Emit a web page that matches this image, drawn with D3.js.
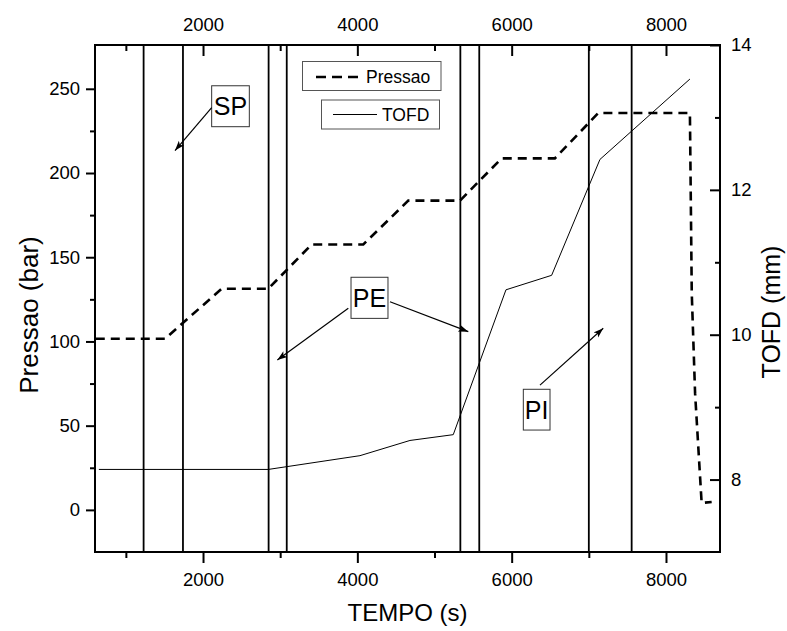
<!DOCTYPE html>
<html>
<head>
<meta charset="utf-8">
<script src="https://cdn.jsdelivr.net/npm/d3@7"></script>
<style>
  html, body { margin: 0; padding: 0; background: #fff; }
  svg { display: block; font-family: "Liberation Sans", Arial, sans-serif; }
</style>
</head>
<body>
<svg id="chart" width="787" height="631"></svg>
<script>
// ---- data ----
const timeTicks = [2000, 4000, 6000, 8000];
const timeMinorTicks = [1000, 3000, 5000, 7000];
const pressaoTicks = [0, 50, 100, 150, 200, 250];
const pressaoMinorTicks = [25, 75, 125, 175, 225];
const tofdTicks = [8, 10, 12, 14];
const tofdMinorTicks = [9, 11, 13];

const pressaoTime = [610, 1507, 2242, 2846, 3408, 4077, 4660, 5330, 5870, 6560, 7122, 8310, 8334, 8377, 8462, 8592];
const pressaoBar  = [101.6, 101.6, 131.3, 131.3, 157.6, 157.6, 183.6, 183.6, 208.7, 208.7, 235.6, 235.6, 128.6, 69.3, 4.1, 4.7];

const tofdTime = [650, 2846, 4034, 4682, 5243, 5926, 6518, 7144, 8310];
const tofdMm   = [8.14, 8.14, 8.33, 8.54, 8.62, 10.62, 10.82, 12.42, 13.53];

const eventTimes = [1230, 1740, 2850, 3085, 5335, 5580, 7000, 7555];

// annotations: label, box (time range, pressure range), arrows from -> to (time, pressure)
const annLabels = ["SP", "PE", "PI"];
const annBoxTime = [[2112, 2600], [3918, 4397], [6151, 6497]];
const annBoxBar  = [[251.8, 227.5], [138.1, 113.7], [71.6, 47.4]];
const annArrows  = [
  [[2112, 238.8, 1637, 213.3]],
  [[3883, 119.7, 2963, 89.0], [4423, 123.6, 5438, 105.8]],
  [[6367, 74.1, 7187, 107.8]]
];

const legendLabels = ["Pressao", "TOFD"];

// ---- layout ----
const L = 95, R = 720, T = 45, B = 552;
const svg = d3.select("#chart");

const x = d3.scaleLinear().domain([600, 8700]).range([L, R]);
const yL = d3.scaleLinear().domain([-25, 276]).range([B, T]);
const yR = d3.scaleLinear().domain([7, 14]).range([B, T]);

const tickFont = "18.5px";

function styleAxis(g) {
  g.select(".domain").remove();
  g.selectAll("line").attr("stroke", "#000").attr("stroke-width", 2);
  g.selectAll("text").attr("font-size", tickFont).attr("fill", "#000")
    .attr("font-family", "'Liberation Sans', Arial, sans-serif");
}

// bottom axis
svg.append("g").attr("transform", `translate(0,${B})`)
  .call(d3.axisBottom(x).tickValues(timeTicks).tickSizeInner(11).tickSizeOuter(0).tickPadding(10).tickFormat(d3.format("d")))
  .call(styleAxis);
svg.append("g").attr("transform", `translate(0,${B})`)
  .call(d3.axisBottom(x).tickValues(timeMinorTicks).tickSizeInner(6).tickSizeOuter(0).tickFormat(""))
  .call(styleAxis);
// top axis
svg.append("g").attr("transform", `translate(0,${T})`)
  .call(d3.axisTop(x).tickValues(timeTicks).tickSizeInner(-11).tickSizeOuter(0).tickPadding(14).tickFormat(d3.format("d")))
  .call(styleAxis);
svg.append("g").attr("transform", `translate(0,${T})`)
  .call(d3.axisTop(x).tickValues(timeMinorTicks).tickSizeInner(-6).tickSizeOuter(0).tickFormat(""))
  .call(styleAxis);
// left axis
svg.append("g").attr("transform", `translate(${L},0)`)
  .call(d3.axisLeft(yL).tickValues(pressaoTicks).tickSizeInner(9).tickSizeOuter(0).tickPadding(6).tickFormat(d3.format("d")))
  .call(styleAxis);
svg.append("g").attr("transform", `translate(${L},0)`)
  .call(d3.axisLeft(yL).tickValues(pressaoMinorTicks).tickSizeInner(5).tickSizeOuter(0).tickFormat(""))
  .call(styleAxis);
// right axis
svg.append("g").attr("transform", `translate(${R},0)`)
  .call(d3.axisRight(yR).tickValues(tofdTicks).tickSizeInner(-10).tickSizeOuter(0).tickPadding(11).tickFormat(d3.format("d")))
  .call(styleAxis);
svg.append("g").attr("transform", `translate(${R},0)`)
  .call(d3.axisRight(yR).tickValues(tofdMinorTicks).tickSizeInner(-5).tickSizeOuter(0).tickFormat(""))
  .call(styleAxis);

// event vertical lines
svg.append("g").selectAll("line").data(eventTimes).join("line")
  .attr("x1", d => x(d)).attr("x2", d => x(d))
  .attr("y1", T).attr("y2", B)
  .attr("stroke", "#000").attr("stroke-width", 1.8);

// TOFD line
const tofdData = tofdTime.map((t, i) => [t, tofdMm[i]]);
svg.append("path").datum(tofdData)
  .attr("fill", "none").attr("stroke", "#000").attr("stroke-width", 1)
  .attr("d", d3.line().x(d => x(d[0])).y(d => yR(d[1])));

// Pressao line
const presData = pressaoTime.map((t, i) => [t, pressaoBar[i]]);
svg.append("path").datum(presData)
  .attr("fill", "none").attr("stroke", "#000").attr("stroke-width", 2.6)
  .attr("stroke-dasharray", "9,6")
  .attr("d", d3.line().x(d => x(d[0])).y(d => yL(d[1])));

// frame
svg.append("rect").attr("x", L).attr("y", T).attr("width", R - L).attr("height", B - T)
  .attr("fill", "none").attr("stroke", "#000").attr("stroke-width", 2);

// arrow marker
svg.append("defs").append("marker")
  .attr("id", "ah").attr("viewBox", "0 0 10 10").attr("refX", 10).attr("refY", 5)
  .attr("markerWidth", 10).attr("markerHeight", 10).attr("markerUnits", "userSpaceOnUse")
  .attr("orient", "auto")
  .append("path").attr("d", "M0,1.5 L10,5 L0,8.5 L2.5,5 Z").attr("fill", "#000");

// annotations
annLabels.forEach((lab, i) => {
  const g = svg.append("g");
  const x0 = x(annBoxTime[i][0]), x1 = x(annBoxTime[i][1]);
  const y0 = yL(annBoxBar[i][0]), y1 = yL(annBoxBar[i][1]);
  g.append("rect").attr("x", x0).attr("y", y0).attr("width", x1 - x0).attr("height", y1 - y0)
    .attr("fill", "#fff").attr("stroke", "#333").attr("stroke-width", 1);
  g.append("text").attr("x", (x0 + x1) / 2).attr("y", (y0 + y1) / 2 + 9)
    .attr("text-anchor", "middle").attr("font-size", "25px").attr("fill", "#000").text(lab);
  annArrows[i].forEach(a => {
    g.append("line").attr("x1", x(a[0])).attr("y1", yL(a[1])).attr("x2", x(a[2])).attr("y2", yL(a[3]))
      .attr("stroke", "#000").attr("stroke-width", 1.2).attr("marker-end", "url(#ah)");
  });
});

// legend
const leg = svg.append("g");
leg.append("rect").attr("x", 302.5).attr("y", 61.5).attr("width", 138.5).attr("height", 29)
  .attr("fill", "#fff").attr("stroke", "#555").attr("stroke-width", 1);
leg.append("line").attr("x1", 316).attr("x2", 358).attr("y1", 77).attr("y2", 77)
  .attr("stroke", "#000").attr("stroke-width", 2.6).attr("stroke-dasharray", "10,6");
leg.append("text").attr("x", 366).attr("y", 83).attr("font-size", "17.5px").attr("fill", "#000").text(legendLabels[0]);
leg.append("rect").attr("x", 321.5).attr("y", 100).attr("width", 118).attr("height", 29)
  .attr("fill", "#fff").attr("stroke", "#555").attr("stroke-width", 1);
leg.append("line").attr("x1", 333).attr("x2", 377).attr("y1", 114.5).attr("y2", 114.5)
  .attr("stroke", "#000").attr("stroke-width", 1);
leg.append("text").attr("x", 382).attr("y", 121).attr("font-size", "17.5px").attr("fill", "#000").text(legendLabels[1]);

// axis titles
svg.append("text").attr("x", (L + R) / 2).attr("y", 621).attr("text-anchor", "middle")
  .attr("font-size", "24px").attr("fill", "#000").text("TEMPO (s)");
svg.append("text").attr("transform", `translate(38,315) rotate(-90)`).attr("text-anchor", "middle")
  .attr("font-size", "26px").attr("fill", "#000").text("Pressao (bar)");
svg.append("text").attr("transform", `translate(780,312) rotate(-90)`).attr("text-anchor", "middle")
  .attr("font-size", "25px").attr("fill", "#000").text("TOFD (mm)");
</script>
</body>
</html>
